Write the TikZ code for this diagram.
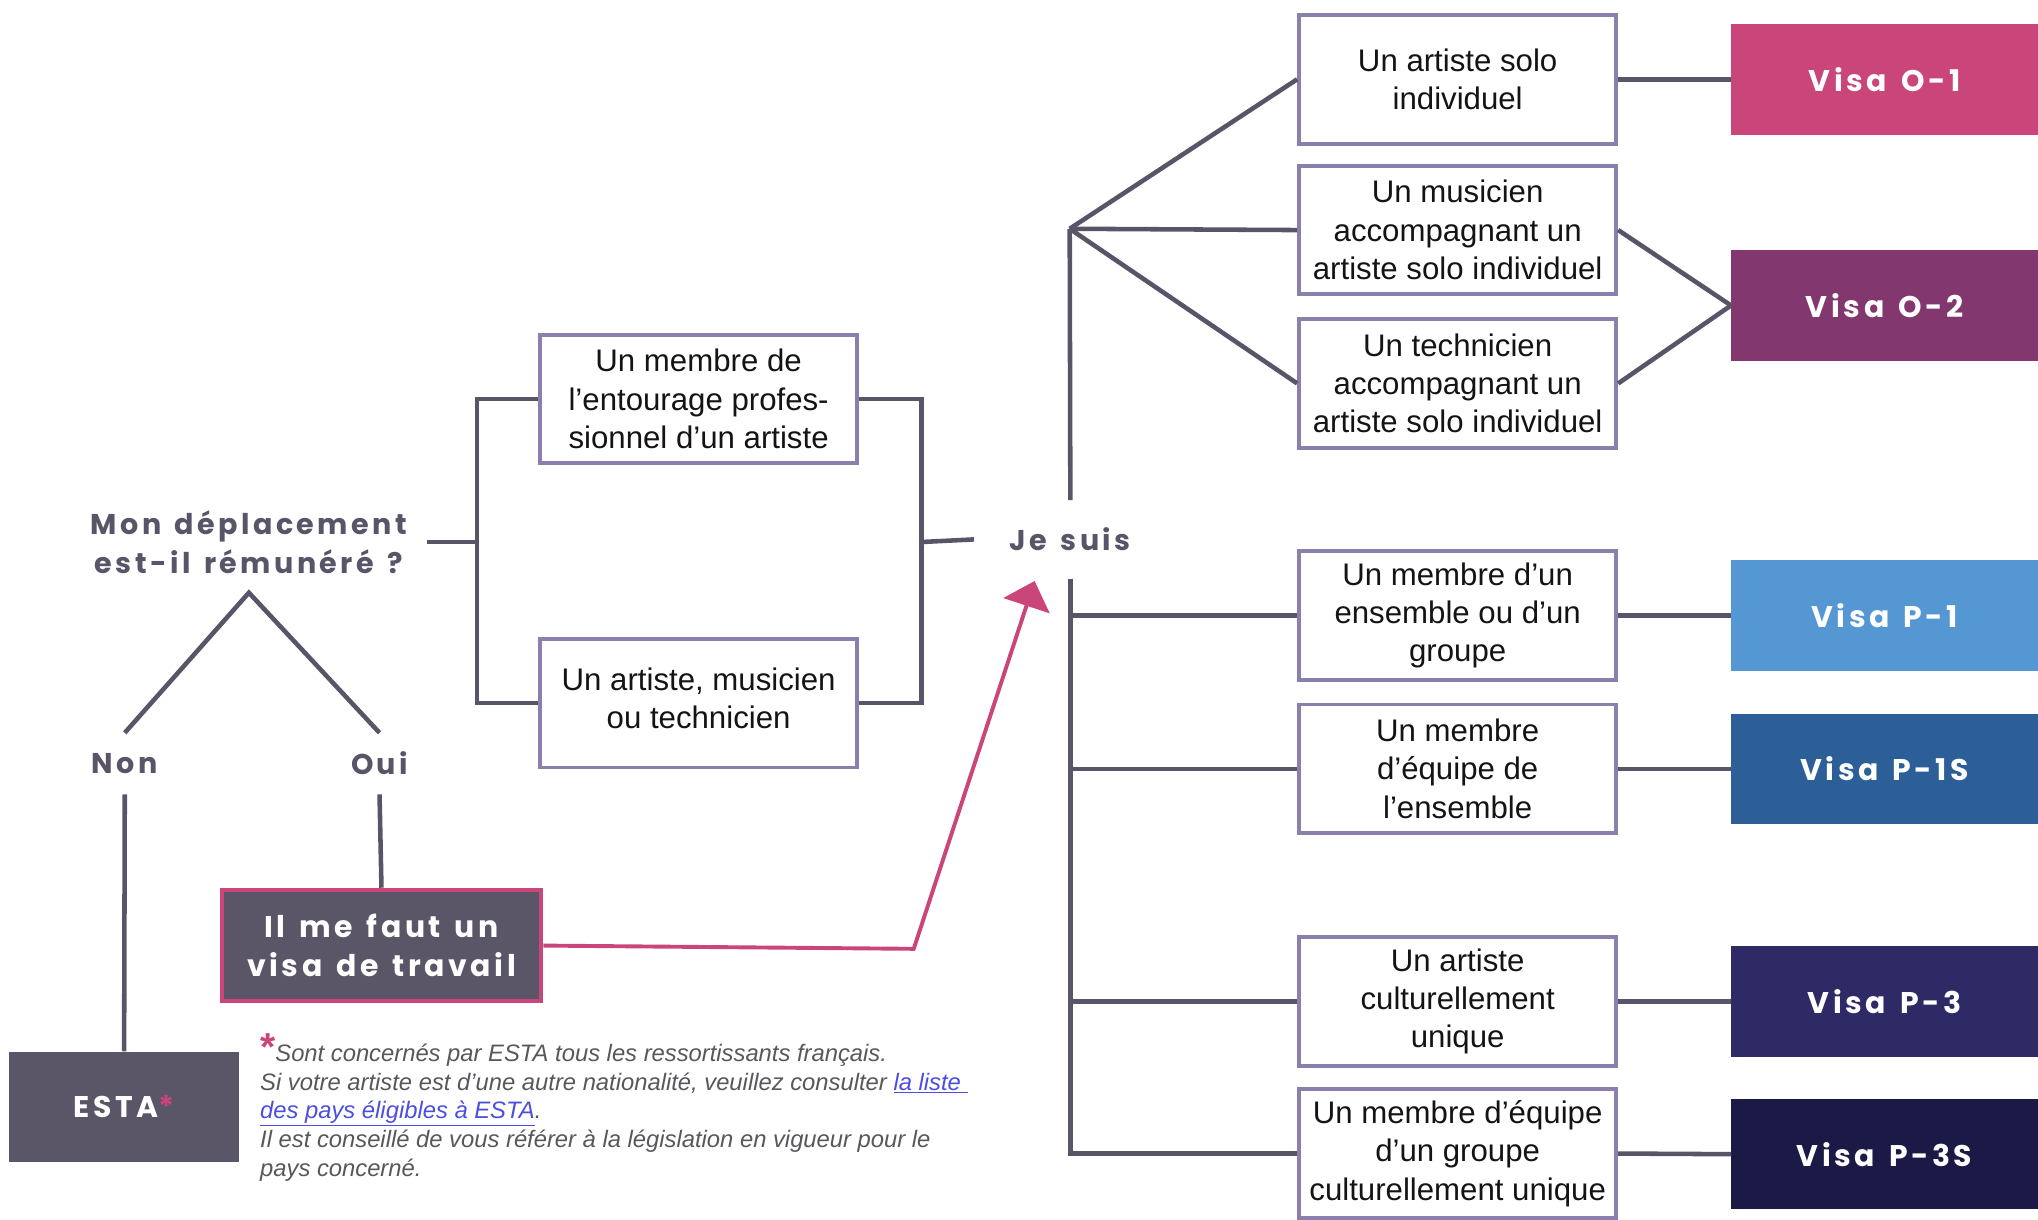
\documentclass[tikz,border=0pt]{standalone}
\usepackage{fontspec}
\setmainfont{Liberation Sans}
\newfontfamily\titlefont{Poppins}[LetterSpace=12, WordSpace=1.4]
\usetikzlibrary{arrows.meta}
\definecolor{linec}{HTML}{5A5468}
\definecolor{boxc}{HTML}{8B80AD}
\definecolor{pinkc}{HTML}{C9457A}
\definecolor{purplec}{HTML}{82386E}
\definecolor{pblue}{HTML}{5597D2}
\definecolor{psblue}{HTML}{2C5E98}
\definecolor{pthree}{HTML}{2E2A66}
\definecolor{pthrees}{HTML}{1B1A46}
\definecolor{darkbox}{HTML}{5A5668}
\definecolor{footc}{HTML}{58575C}
\definecolor{linkc}{HTML}{4B4EE0}
\begin{document}
\begin{tikzpicture}[x=1pt,y=-1pt,
  conn/.style={draw=linec, line width=3.5pt},
  optbox/.style={draw=boxc, line width=3pt, fill=white, minimum width=244pt, minimum height=99pt, align=center, font=\fontsize{24}{29.5}\selectfont, text=black!92, inner sep=0pt},
  visabox/.style={fill=#1, minimum width=236pt, minimum height=85pt, text=white, font=\titlefont\bfseries\fontsize{23}{28}\selectfont, inner sep=0pt},
  title/.style={text=linec, font=\titlefont\bfseries\fontsize{22}{30}\selectfont, align=center, inner sep=0pt},
  darkstyle/.style={fill=darkbox, text=white, font=\titlefont\bfseries\fontsize{23}{30}\selectfont, align=center, inner sep=0pt},
]
\useasboundingbox (0,0) rectangle (1568,938);

% left question
\node[title, minimum width=273pt] (q) at (191.5,417) {Mon déplacement\\est-il rémunéré ?};
\coordinate (apex) at (191.5,456);
\node[title, minimum height=47pt] (non) at (96,587.5) {Non};
\node[title, minimum height=47pt] (oui) at (292,587.5) {Oui};

\node[optbox] (a1) at (537.5,307) {Un membre de\\l’entourage profes-\\sionnel d’un artiste};
\node[optbox] (a2) at (537.5,541) {Un artiste, musicien\\ou technicien\\[-22pt]};

\node[title, minimum width=148pt, minimum height=60pt] (js) at (823.5,415) {Je suis};

% right options
\node[optbox] (b1) at (1121.5,61) {Un artiste solo\\individuel};
\node[optbox] (b2) at (1121.5,177) {Un musicien\\accompagnant un\\artiste solo individuel};
\node[optbox] (b3) at (1121.5,295) {Un technicien\\accompagnant un\\artiste solo individuel};
\node[optbox] (b4) at (1121.5,473.5) {Un membre d’un\\ensemble ou d’un\\groupe};
\node[optbox] (b5) at (1121.5,591.5) {Un membre\\d’équipe de\\l’ensemble};
\node[optbox] (b6) at (1121.5,770.5) {Un artiste\\culturellement\\unique};
\node[optbox] (b7) at (1121.5,887.5) {Un membre d’équipe\\d’un groupe\\culturellement unique};

% visas
\node[visabox=pinkc] (v1) at (1450,61) {Visa O-1};
\node[visabox=purplec] (v2) at (1450,235) {Visa O-2};
\node[visabox=pblue] (v3) at (1450,473.5) {Visa P-1};
\node[visabox=psblue] (v4) at (1450,591.5) {Visa P-1S};
\node[visabox=pthree] (v5) at (1450,770.5) {Visa P-3};
\node[visabox=pthrees] (v6) at (1450,888) {Visa P-3S};

% bottom left
\node[darkstyle, draw=pinkc, line width=3.5pt, minimum width=245.5pt, minimum height=85.5pt] (work) at (293.5,727.5) {Il me faut un\\visa de travail};
\node[darkstyle, minimum width=177pt, minimum height=85pt] (esta) at (95.5,851.5) {ESTA\textcolor{pinkc}{*}};

\node[anchor=north west, inner sep=0pt, align=left, text=footc, font=\itshape\fontsize{18.3}{22}\selectfont] (fn) at (200,795)
{\textcolor{pinkc}{\raisebox{1pt}{\fontsize{30}{22}\selectfont\bfseries\upshape *}}Sont concernés par ESTA tous les ressortissants français.\\
Si votre artiste est d’une autre nationalité, veuillez consulter \textcolor{linkc}{\underline{la liste }}\\
\textcolor{linkc}{\underline{des pays éligibles à ESTA}}.\\
Il est conseillé de vous référer à la législation en vigueur pour le\\
pays concerné.};

% connectors
\coordinate (jl) at (367,417);
\coordinate (jr) at (709,417);
\coordinate (hub) at (823,176);
\coordinate (bend) at (703,730);
\coordinate (tip) at (796,447);

\draw[conn] (q.east) -- (jl);
\draw[conn] (a1.west) -| (jl) |- (a2.west);
\draw[conn] (a1.east) -| (jr) |- (a2.east);
\draw[conn] (jr) -- (js.west);

\draw[conn] (non.north) -- (apex) -- (oui.north);
\draw[conn] (non.south) -- (esta.north);
\draw[conn] (oui.south) -- (work.north);

\draw[conn] (js.north) -- (hub);
\draw[conn] (hub) -- (b1.west);
\draw[conn] (hub) -- (b2.west);
\draw[conn] (hub) -- (b3.west);
\draw[conn] (js.south) |- (b4.west);
\draw[conn] (js.south) |- (b5.west);
\draw[conn] (js.south) |- (b6.west);
\draw[conn] (js.south) |- (b7.west);

\draw[conn] (b1.east) -- (v1.west);
\draw[conn] (b2.east) -- (v2.west);
\draw[conn] (b3.east) -- (v2.west);
\draw[conn] (b4.east) -- (v3.west);
\draw[conn] (b5.east) -- (v4.west);
\draw[conn] (b6.east) -- (v5.west);
\draw[conn] (b7.east) -- (v6.west);

\draw[draw=pinkc, line width=3pt, -{Triangle[length=20pt,width=37pt]}] (work.east) -- (bend) -- (tip);
\end{tikzpicture}
\end{document}
